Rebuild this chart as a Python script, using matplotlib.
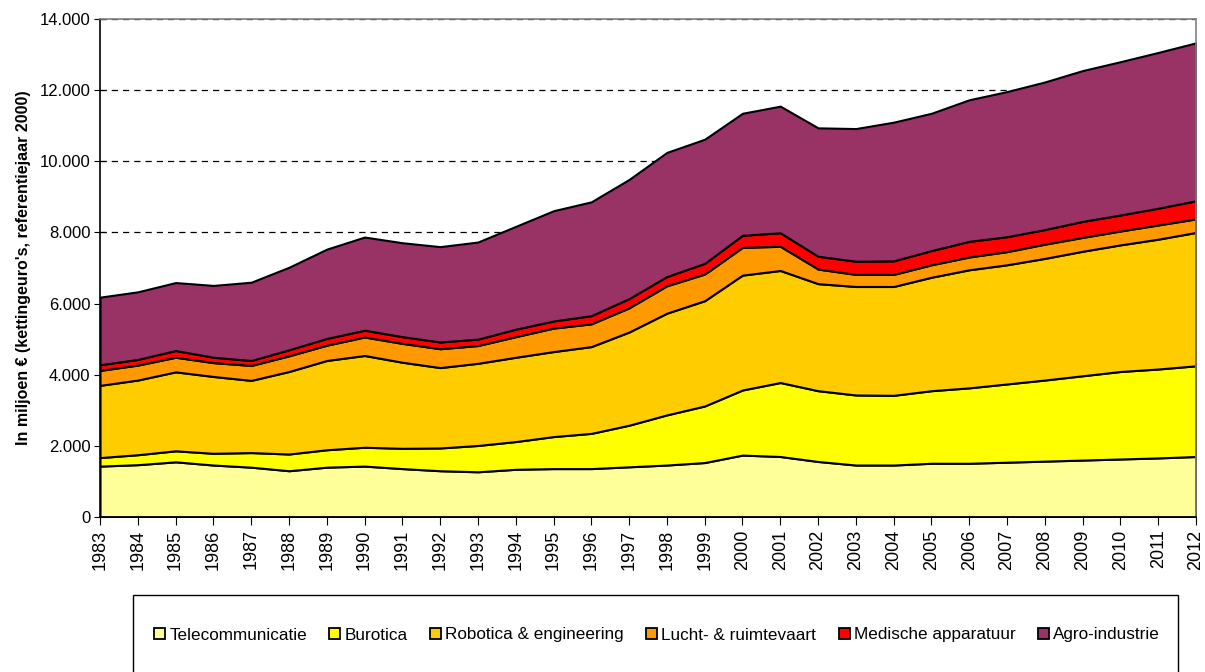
import matplotlib.pyplot as plt
import matplotlib.ticker as ticker
from matplotlib.patches import Patch, Rectangle

plt.rcParams['font.family'] = ['Liberation Sans', 'DejaVu Sans']

years = list(range(1983, 2013))

telecom = [1430, 1470, 1550, 1460, 1400, 1300, 1400, 1430, 1360, 1300,
           1270, 1340, 1360, 1360, 1410, 1460, 1530, 1740, 1700, 1560,
           1460, 1460, 1510, 1510, 1540, 1570, 1600, 1630, 1660, 1700]
burotica = [240, 280, 310, 330, 410, 470, 490, 530, 570, 640,
            740, 780, 900, 990, 1170, 1410, 1590, 1830, 2080, 1990,
            1970, 1960, 2040, 2120, 2200, 2280, 2370, 2460, 2500, 2550]
robotica = [2030, 2100, 2220, 2160, 2030, 2320, 2510, 2580, 2420, 2260,
            2310, 2370, 2390, 2440, 2620, 2860, 2960, 3230, 3150, 3010,
            3050, 3060, 3190, 3320, 3350, 3420, 3500, 3560, 3650, 3750]
lucht = [420, 420, 410, 390, 420, 440, 430, 520, 530, 530,
         500, 580, 660, 640, 680, 770, 750, 780, 680, 410,
         340, 340, 350, 360, 370, 400, 390, 390, 400, 380]
medisch = [160, 160, 190, 150, 140, 170, 190, 190, 190, 190,
           180, 210, 200, 230, 260, 260, 300, 340, 380, 360,
           370, 380, 400, 440, 420, 410, 450, 450, 470, 510]
agro = [1900, 1900, 1910, 2020, 2200, 2320, 2510, 2620, 2640, 2680,
        2730, 2890, 3100, 3200, 3350, 3490, 3490, 3430, 3560, 3610,
        3730, 3900, 3860, 3980, 4080, 4150, 4240, 4310, 4380, 4440]

labels = ["Telecommunicatie", "Burotica", "Robotica & engineering",
          "Lucht- & ruimtevaart", "Medische apparatuur", "Agro-industrie"]
colors = ["#FFFF99", "#FFFF00", "#FFCC00", "#FF9900", "#FF0000", "#993366"]

fig = plt.figure(figsize=(12.05, 6.72), dpi=100)
ax = fig.add_axes([0.083, 0.2307, 0.9095, 0.741])

ax.stackplot(years, telecom, burotica, robotica, lucht, medisch, agro,
             colors=colors, edgecolor="black", linewidth=1.5, zorder=2)

ax.set_xlim(1983, 2012)
ax.set_ylim(0, 14000)
ax.set_yticks(range(0, 14001, 2000))
ax.yaxis.set_major_formatter(ticker.FuncFormatter(lambda v, p: f"{int(v):,}".replace(",", ".")))
ax.set_xticks(years)
ax.set_xticklabels([str(y) for y in years], rotation=90, fontsize=13)
ax.tick_params(axis="y", labelsize=12, length=8, direction="inout", pad=3)
ax.tick_params(axis="x", length=6, direction="out", pad=3)

ax.yaxis.grid(True, linestyle=(0, (5, 4)), color="black", linewidth=0.9, zorder=0)
ax.set_axisbelow(True)

for s in ["top", "right"]:
    ax.spines[s].set_color("#808080")
    ax.spines[s].set_linewidth(1.2)
for s in ["left", "bottom"]:
    ax.spines[s].set_color("black")
    ax.spines[s].set_linewidth(1.2)

ax.set_ylabel("In miljoen € (kettingeuro's, referentiejaar 2000)",
              fontsize=11.5, fontweight="bold", labelpad=6)

# legend box under the plot
fig.patches.append(Rectangle((133 / 1205, -0.01), (1178 - 133) / 1205, (672 - 595) / 672 + 0.01,
                             transform=fig.transFigure, facecolor="white",
                             edgecolor="black", linewidth=1.0))
handles = [Patch(facecolor=c, edgecolor="black", linewidth=1.3) for c in colors]
fig.legend(handles, labels, loc="center", bbox_to_anchor=(657 / 1205, 1 - 635 / 672),
           ncol=6, frameon=False, fontsize=12.3, handlelength=0.65, handleheight=0.65,
           handletextpad=0.25, columnspacing=1.3, borderpad=0)

fig.savefig("out.png", dpi=100)
